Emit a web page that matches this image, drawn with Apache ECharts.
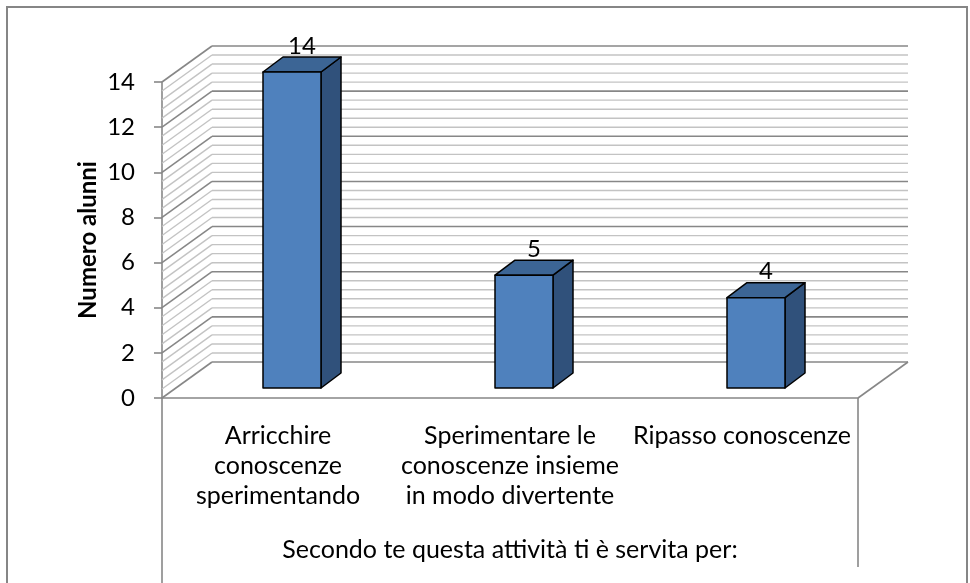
<!DOCTYPE html>
<html>
<head>
<meta charset="utf-8">
<script src="https://cdn.jsdelivr.net/npm/echarts@6/dist/echarts.min.js"></script>
<style>
  html, body { margin: 0; padding: 0; background: #fff; }
  #main { width: 970px; height: 583px; }
</style>
</head>
<body>
<div id="main"></div>
<script>
// categorie e valori
var categorie = [
    'Arricchire\nconoscenze\nsperimentando',
    'Sperimentare le\nconoscenze insieme\nin modo divertente',
    'Ripasso conoscenze'
];
var alunni = [14, 5, 4];
var titoloAsse = 'Secondo te questa attività ti è servita per:';
var nomeAsseY = 'Numero alunni';

var FONT = 'Lato';
var DX = 50, DY = 36;      // profondita pareti
var BX = 14, BY = 10;      // spostamento faccia anteriore barre
var BDX = 20, BDY = 15;    // profondita barre

var datiBarre = [];
for (var i = 0; i < alunni.length; i++) {
    datiBarre.push([i, alunni[i]]);
}

var myChart = echarts.init(document.getElementById('main'));

function renderPareti(params, api) {
    var cs = params.coordSys;
    var x0 = cs.x, x1 = cs.x + cs.width;
    var y0 = api.coord([0, 0])[1];
    var children = [];
    // linee della griglia: maggiori ogni 2, minori ogni 0.4
    for (var k = 35; k >= 0; k--) {
        var y = api.coord([0, k * 0.4])[1];
        var major = k % 5 === 0;
        var st = { stroke: major ? '#878787' : '#c3c3c3', lineWidth: major ? 1.6 : 1.4 };
        children.push({ type: 'line', shape: { x1: x0 + DX, y1: y - DY, x2: x1 + DX, y2: y - DY }, style: st });
        children.push({ type: 'line', shape: { x1: x0, y1: y, x2: x0 + DX, y2: y - DY }, style: st });
    }
    var grigio = { stroke: '#878787', lineWidth: 1.6 };
    children.push({ type: 'line', shape: { x1: x1, y1: y0, x2: x1 + DX, y2: y0 - DY }, style: grigio });
    children.push({ type: 'line', shape: { x1: x0, y1: y0, x2: x0, y2: 583 }, style: grigio });
    children.push({ type: 'line', shape: { x1: x1, y1: y0, x2: x1, y2: 567 }, style: grigio });
    return { type: 'group', children: children };
}

function renderBarra(params, api) {
    var i = api.value(0), v = api.value(1);
    var base = api.coord([i, 0]);
    var top = api.coord([i, v]);
    var w = api.size([1, 0])[0] * 0.25;
    var L = base[0] + BX - w / 2, R = L + w;
    var T = top[1] - BY, B = base[1] - BY;
    var bordo = { stroke: '#000', lineWidth: 1.5, lineJoin: 'round' };
    return {
        type: 'group',
        children: [
            { type: 'polygon', shape: { points: [[R, T], [R + BDX, T - BDY], [R + BDX, B - BDY], [R, B]] },
              style: Object.assign({ fill: '#30517b' }, bordo) },
            { type: 'polygon', shape: { points: [[L, T], [R, T], [R + BDX, T - BDY], [L + BDX, T - BDY]] },
              style: Object.assign({ fill: '#3c6595' }, bordo) },
            { type: 'rect', shape: { x: L, y: T, width: w, height: B - T },
              style: Object.assign({ fill: '#4f81bd' }, bordo) },
            { type: 'text', x: (L + R) / 2 + BDX / 2, y: T - BDY + 1,
              style: { text: String(v), fill: '#000', font: '24px ' + FONT, textAlign: 'center', textVerticalAlign: 'bottom' } }
        ]
    };
}

var option = {
    animation: false,
    graphic: [{
        type: 'rect', shape: { x: 7, y: 7, width: 960, height: 620 },
        style: { fill: 'none', stroke: '#868686', lineWidth: 2 }, z: 100
    }],
    grid: { left: 162, right: 112, top: 82, bottom: 185 },
    xAxis: {
        type: 'category',
        data: categorie,
        axisLine: { lineStyle: { color: '#878787', width: 1.6 } },
        axisTick: { show: false },
        axisLabel: { interval: 0, color: '#000', fontFamily: FONT, fontSize: 25, lineHeight: 30, margin: 23 },
        name: titoloAsse,
        nameLocation: 'middle',
        nameGap: 139,
        nameMoveOverlap: false,
        nameTextStyle: { color: '#000', fontFamily: FONT, fontSize: 25 }
    },
    yAxis: {
        type: 'value',
        min: 0, max: 14, interval: 2,
        axisLine: { show: true, lineStyle: { color: '#878787', width: 1.6 } },
        axisTick: { show: true, length: 8, lineStyle: { color: '#878787', width: 1.6 } },
        axisLabel: { color: '#000', fontFamily: FONT, fontSize: 24, margin: 27 },
        splitLine: { show: false },
        name: nomeAsseY,
        nameLocation: 'middle',
        nameGap: 62,
        nameMoveOverlap: false,
        nameTextStyle: { color: '#000', fontFamily: FONT, fontSize: 24, fontWeight: 'bold' }
    },
    series: [
        { type: 'custom', renderItem: renderPareti, data: [[0, 0]], z: 1, silent: true },
        { type: 'custom', renderItem: renderBarra, data: datiBarre, z: 2 }
    ]
};
myChart.setOption(option);
window.onresize = myChart.resize;
</script>
</body>
</html>
